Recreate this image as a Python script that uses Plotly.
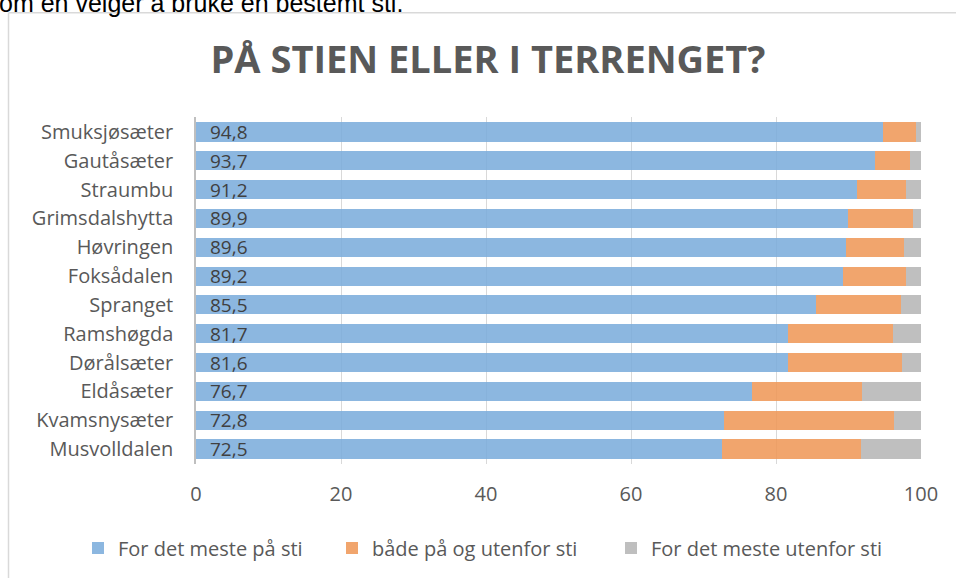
import plotly.graph_objects as go

categories = ["Smuksjøsæter", "Gautåsæter", "Straumbu", "Grimsdalshytta", "Høvringen",
              "Foksådalen", "Spranget", "Ramshøgda", "Dørålsæter", "Eldåsæter",
              "Kvamsnysæter", "Musvolldalen"]
paa_sti = [94.8, 93.7, 91.2, 89.9, 89.6, 89.2, 85.5, 81.7, 81.6, 76.7, 72.8, 72.5]
baade = [4.5, 4.8, 6.7, 9.0, 8.0, 8.7, 11.7, 14.4, 15.8, 15.1, 23.5, 19.2]
utenfor = [0.7, 1.5, 2.1, 1.1, 2.4, 2.1, 2.8, 3.9, 2.6, 8.2, 3.7, 8.3]
series_names = ["For det meste på sti", "både på og utenfor sti", "For det meste utenfor sti"]
tick_vals = [0, 20, 40, 60, 80, 100]

W, H = 956, 578
FONT = "Open Sans"
colors = ["rgba(120,170,218,0.85)", "rgba(238,149,84,0.85)", "rgba(180,180,180,0.85)"]
legend_ids = ["legend", "legend2", "legend3"]
legend_px = [78, 332, 611]

L, R, T, B = 196, 35, 117, 113
pw, ph = W - L - R, H - T - B
def px(x):
    return (x - L) / pw
def py(y):
    return 1 - (y - T) / ph

fig = go.Figure()
for name, vals, col, lid in zip(series_names, [paa_sti, baade, utenfor], colors, legend_ids):
    fig.add_trace(go.Bar(y=categories, x=vals, name=name, orientation="h",
                         marker=dict(color=col, line=dict(width=0)),
                         legend=lid, hoverinfo="x+y"))

for c, v in zip(categories, paa_sti):
    fig.add_annotation(x=0, y=c, xref="x", yref="y", text=f"{v:.1f}".replace(".", ","),
                       showarrow=False, xanchor="left", xshift=12,
                       font=dict(family=FONT, size=19, color="#404040"))

# cut-off document text above chart
fig.add_annotation(x=px(-3), y=py(2.5), xref="paper", yref="paper",
                   text="om en velger å bruke en bestemt sti.", showarrow=False,
                   xanchor="left", yanchor="middle",
                   font=dict(family="Liberation Sans", size=25, color="#000000"))

fig.add_shape(type="line", xref="paper", yref="paper", x0=px(8.5), x1=px(8.5),
              y0=py(12.5), y1=py(600), line=dict(color="#D9D9D9", width=1.5))
fig.add_shape(type="line", xref="paper", yref="paper", x0=px(8.5), x1=px(1000),
              y0=py(12.5), y1=py(12.5), line=dict(color="#D9D9D9", width=1.5))

legend_common = dict(orientation="h", xanchor="left", xref="paper", yref="paper",
                     y=py(548), yanchor="middle",
                     font=dict(family=FONT, size=20, color="#595959"))

fig.update_layout(
    width=W, height=H,
    margin=dict(l=L, r=R, t=T, b=B),
    barmode="stack", bargap=0.34,
    plot_bgcolor="white", paper_bgcolor="white",
    font=dict(family=FONT, color="#595959"),
    title=dict(text="<b>PÅ STIEN ELLER I TERRENGET?</b>", x=488 / W, xanchor="center",
               y=1 - 60 / H, yanchor="middle",
               font=dict(family=FONT, size=38, color="#595959")),
    xaxis=dict(range=[0, 100], tickvals=tick_vals, showgrid=True, gridcolor="#D9D9D9",
               gridwidth=1, zeroline=False, showline=False, ticks="",
               tickfont=dict(family=FONT, size=20, color="#595959"),
               ticklabelstandoff=16, fixedrange=True),
    yaxis=dict(autorange="reversed", showline=True, linecolor="#BFBFBF", linewidth=1.5,
               ticks="", tickfont=dict(family=FONT, size=20, color="#595959"),
               ticklabelstandoff=17, fixedrange=True),
    legend=dict(x=px(legend_px[0]), **legend_common),
    legend2=dict(x=px(legend_px[1]), **legend_common),
    legend3=dict(x=px(legend_px[2]), **legend_common),
    showlegend=True,
)

fig.write_html("out.html", config={"displayModeBar": False},
               post_script="document.body.style.margin='0';")
